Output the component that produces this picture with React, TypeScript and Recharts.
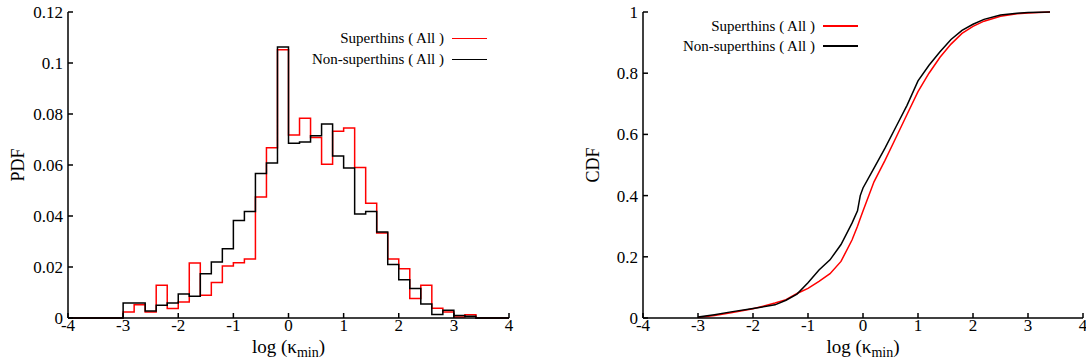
import React from 'react';
import { LineChart, Line, XAxis, YAxis, Legend } from 'recharts';

// PDF histogram: left edges of 0.2-wide bins, plus the empty ends
const pdfX = [-4, -3, -2.8, -2.6, -2.4, -2.2, -2, -1.8, -1.6, -1.4, -1.2, -1, -0.8, -0.6, -0.4, -0.2, 0, 0.2, 0.4, 0.6, 0.8, 1, 1.2, 1.4, 1.6, 1.8, 2, 2.2, 2.4, 2.6, 2.8, 3, 3.2, 3.4, 4];
const pdfSuper = [0, 0.0024, 0.0052, 0.0024, 0.0128, 0.0037, 0.0063, 0.0216, 0.0089, 0.0139, 0.0204, 0.0217, 0.0231, 0.0475, 0.0668, 0.1052, 0.0718, 0.0783, 0.0708, 0.0603, 0.0732, 0.0745, 0.059, 0.045, 0.0333, 0.0231, 0.0193, 0.0076, 0.0128, 0.0038, 0.0024, 0.0004, 0.0013, 0, 0];
const pdfNon = [0, 0.0059, 0.0059, 0.0027, 0.005, 0.0059, 0.0094, 0.0085, 0.0174, 0.022, 0.0272, 0.0382, 0.0418, 0.0567, 0.0608, 0.1063, 0.0685, 0.069, 0.0715, 0.0761, 0.0635, 0.0588, 0.0408, 0.0418, 0.0337, 0.021, 0.015, 0.0116, 0.0055, 0.0014, 0.003, 0.001, 0.0007, 0, 0];

// CDF
const cdfX = [-3, -2.7, -2.4, -2, -1.6, -1.4, -1.2, -1, -0.8, -0.6, -0.4, -0.2, -0.1, -0.05, 0, 0.2, 0.4, 0.6, 0.8, 1, 1.2, 1.4, 1.6, 1.8, 2, 2.2, 2.5, 2.8, 3, 3.4];
const cdfSuper = [0.002, 0.008, 0.017, 0.03, 0.049, 0.06, 0.08, 0.097, 0.12, 0.145, 0.185, 0.255, 0.3, 0.325, 0.35, 0.445, 0.515, 0.59, 0.665, 0.74, 0.8, 0.852, 0.895, 0.93, 0.953, 0.97, 0.986, 0.994, 0.997, 1];
const cdfNon = [0.003, 0.011, 0.02, 0.031, 0.043, 0.058, 0.078, 0.115, 0.157, 0.19, 0.24, 0.31, 0.35, 0.4, 0.425, 0.49, 0.555, 0.625, 0.695, 0.775, 0.826, 0.87, 0.91, 0.94, 0.96, 0.976, 0.99, 0.996, 0.998, 1];

const xTicks = [-4, -3, -2, -1, 0, 1, 2, 3, 4];
const pdfTicks = [0, 0.02, 0.04, 0.06, 0.08, 0.1, 0.12];
const cdfTicks = [0, 0.2, 0.4, 0.6, 0.8, 1];
const seriesNames = ['Superthins ( All )', 'Non-superthins ( All )'];
const seriesColors = ['#ff0000', '#000000'];

const pdfData = pdfX.map((x, i) => ({ x, s: pdfSuper[i], n: pdfNon[i] }));
const cdfData = cdfX.map((x, i) => ({ x, s: cdfSuper[i], n: cdfNon[i] }));

const FONT = "'Liberation Serif', 'Times New Roman', serif";
const tickStyle = { fontSize: 17, fill: '#000', fontFamily: FONT };
const axisLine = { stroke: '#000', strokeWidth: 1.5 };
const blank = () => '';

const XTitle = (props: any) => {
  const { x, y, width } = props.viewBox;
  return (
    <text x={x + width / 2} y={y + 35} textAnchor="middle" fontFamily={FONT} fontSize={19} fill="#000">
      log (κ<tspan fontSize={14} dy={4}>min</tspan><tspan dy={-4}>)</tspan>
    </text>
  );
};

const yTitle = (label: string) => (props: any) => {
  const { x, y, height } = props.viewBox;
  const cx = x + 18;
  const cy = y + height / 2;
  return (
    <text x={cx} y={cy} transform={`rotate(-90 ${cx} ${cy})`} textAnchor="middle" dominantBaseline="central" fontFamily={FONT} fontSize={18} fill="#000">
      {label}
    </text>
  );
};

const legendBox = (rowHeight: number) => () => (
  <div style={{ fontFamily: FONT, fontSize: 15, color: '#000' }}>
    {seriesNames.map((name, i) => (
      <div key={name} style={{ display: 'flex', justifyContent: 'flex-end', alignItems: 'center', height: rowHeight }}>
        <span style={{ whiteSpace: 'nowrap' }}>{name}</span>
        <span style={{ display: 'inline-block', width: 35, height: 1.5, background: seriesColors[i], marginLeft: 8 }} />
      </div>
    ))}
  </div>
);

function Panel(props: {
  data: any[];
  ticks: number[];
  domain: [number, number];
  title: string;
  step: boolean;
  width: number;
  rightMargin: number;
  legendStyle: React.CSSProperties;
  rowHeight: number;
}) {
  const { data, ticks, domain, title, step, width, rightMargin, legendStyle, rowHeight } = props;
  return (
    <LineChart width={width} height={362} data={data} margin={{ top: 12, right: rightMargin, bottom: 0, left: 0 }}>
      <XAxis dataKey="x" type="number" domain={[-4, 4]} ticks={xTicks} interval={0} height={44}
        axisLine={axisLine} tickLine={axisLine} tickSize={-5} tickMargin={6} tick={tickStyle} label={<XTitle />} />
      <XAxis xAxisId="top" dataKey="x" type="number" orientation="top" domain={[-4, 4]} ticks={xTicks} interval={0} height={0}
        axisLine={axisLine} tickLine={axisLine} tickSize={-5} tickFormatter={blank} />
      <YAxis type="number" domain={domain} ticks={ticks} interval={0} width={68}
        axisLine={axisLine} tickLine={axisLine} tickSize={-5} tickMargin={10} tick={tickStyle}
        label={{ content: yTitle(title) }} />
      <YAxis yAxisId="right" orientation="right" type="number" domain={domain} ticks={ticks} interval={0} width={0}
        axisLine={axisLine} tickLine={axisLine} tickSize={-5} tickFormatter={blank} />
      <Legend layout="vertical" align="center" verticalAlign="middle" content={legendBox(rowHeight)} wrapperStyle={legendStyle} />
      <Line dataKey="s" name={seriesNames[0]} type={step ? 'stepAfter' : 'linear'} stroke={seriesColors[0]} strokeWidth={1.5} dot={false} isAnimationActive={false} />
      <Line dataKey="n" name={seriesNames[1]} type={step ? 'stepAfter' : 'linear'} stroke={seriesColors[1]} strokeWidth={1.5} dot={false} isAnimationActive={false} />
    </LineChart>
  );
}

export default function App() {
  return (
    <div style={{ position: 'absolute', left: 0, top: 0, width: 1086, height: 362, background: '#fff' }}>
      <div style={{ position: 'absolute', left: 0, top: 0 }}>
        <Panel data={pdfData} ticks={pdfTicks} domain={[0, 0.12]} title="PDF" step width={543} rightMargin={34}
          legendStyle={{ top: 28, right: 56, left: 'auto', bottom: 'auto', width: 'auto' }} rowHeight={21} />
      </div>
      <div style={{ position: 'absolute', left: 575, top: 0 }}>
        <Panel data={cdfData} ticks={cdfTicks} domain={[0, 1]} title="CDF" step={false} width={511} rightMargin={3}
          legendStyle={{ top: 16, right: 228, left: 'auto', bottom: 'auto', width: 'auto' }} rowHeight={20} />
      </div>
    </div>
  );
}
